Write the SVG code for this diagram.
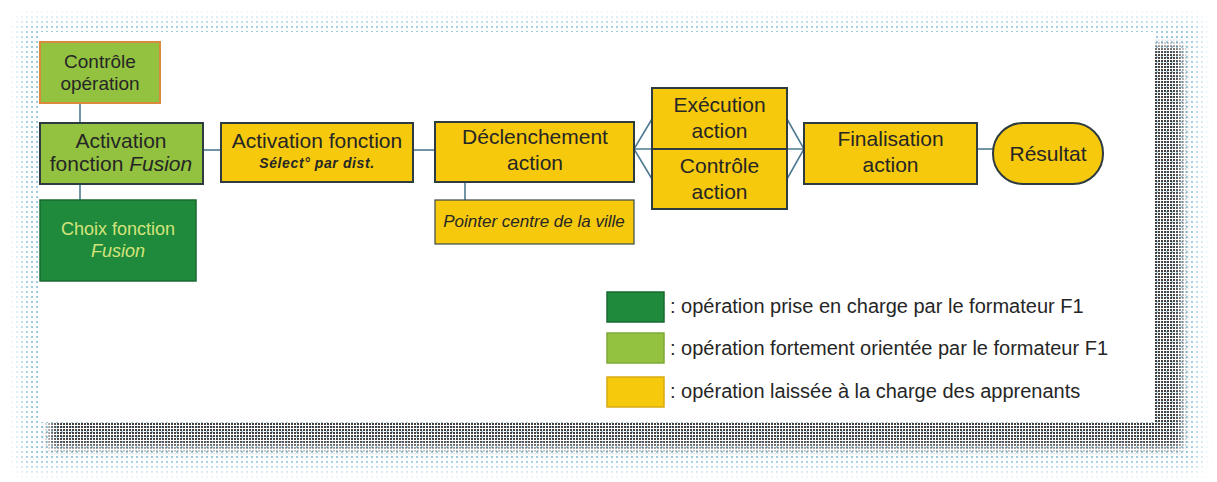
<svg xmlns="http://www.w3.org/2000/svg" width="1217" height="482" viewBox="0 0 1217 482">
<style>
text{font-family:"Liberation Sans",Arial,sans-serif;fill:#262626;text-anchor:middle}
.t{font-size:21px}
.box{stroke:#2e3c42;stroke-width:2}
.yel{fill:#f6c90c}
.lg{fill:#92c23f}
.dg{fill:#1f8a3b}
.conn{stroke:#4f7a92;stroke-width:1.6;fill:none}
.leg{font-size:20px;text-anchor:start}
</style>
<defs>
<pattern id="dotsD" width="3" height="3" patternUnits="userSpaceOnUse">
<rect width="3" height="3" fill="#000"/>
<rect width="2" height="2" fill="#fff"/>
</pattern>
<pattern id="dotsL" width="5" height="5" patternUnits="userSpaceOnUse">
<rect width="5" height="5" fill="#000"/>
<rect x="1" y="1" width="2" height="2" fill="#fff"/>
</pattern>
<mask id="mD" maskUnits="userSpaceOnUse" x="0" y="0" width="1217" height="482"><rect width="1217" height="482" fill="url(#dotsD)"/></mask>
<mask id="mL" maskUnits="userSpaceOnUse" x="0" y="0" width="1217" height="482"><rect width="1217" height="482" fill="url(#dotsL)"/></mask>
<filter id="b1" x="-10%" y="-10%" width="120%" height="120%"><feGaussianBlur stdDeviation="7"/></filter>
<filter id="b2" x="-10%" y="-10%" width="120%" height="120%"><feGaussianBlur stdDeviation="5"/></filter>
</defs>
<rect width="1217" height="482" fill="#fff"/>
<g id="frame">
<g mask="url(#mL)"><rect x="20" y="20" width="1180" height="450" fill="#5aa8cc" filter="url(#b1)" opacity="0.6"/></g>
<g mask="url(#mD)"><rect x="50" y="46" width="1132" height="402" fill="#3a3434" filter="url(#b2)" opacity="0.95"/></g>
<rect x="38" y="32" width="1117" height="390" fill="#fff"/>
</g>
<g id="connectors">
<line class="conn" x1="80" y1="103" x2="80" y2="123"/>
<line class="conn" x1="80" y1="185" x2="80" y2="200"/>
<line class="conn" x1="203" y1="150" x2="221" y2="150"/>
<line class="conn" x1="413" y1="150" x2="435" y2="150"/>
<line class="conn" x1="465" y1="182" x2="465" y2="200"/>
<line class="conn" x1="634" y1="149" x2="804" y2="149"/>
<polyline class="conn" points="652,119 634,149 652,179"/>
<polyline class="conn" points="787,119 804,149 787,179"/>
<line class="conn" x1="977" y1="149" x2="993" y2="149"/>
</g>
<g id="controle-operation">
<rect x="40" y="42" width="120" height="61" class="lg" stroke="#d98a3c" stroke-width="2"/>
<text x="100" y="68" style="font-size:19px">Contrôle</text>
<text x="100" y="90" style="font-size:19px">opération</text>
</g>
<g id="activation-fusion">
<rect x="40" y="123" width="163" height="61" class="lg box"/>
<text x="121" y="148" class="t">Activation</text>
<text x="121" y="171" class="t">fonction <tspan font-style="italic">Fusion</tspan></text>
</g>
<g id="choix-fonction">
<rect x="40" y="200" width="156" height="81" class="dg" stroke="#1a6a30" stroke-width="1.5"/>
<text x="118" y="235" style="font-size:18px;fill:#d3e47c">Choix fonction</text>
<text x="118" y="257" style="font-size:18px;fill:#d3e47c;font-style:italic">Fusion</text>
</g>
<g id="activation-select">
<rect x="221" y="123" width="192" height="59" class="yel box"/>
<text x="317" y="148" class="t">Activation fonction</text>
<text x="317" y="168" style="font-size:14px;font-style:italic;font-weight:bold;letter-spacing:0.6px">Sélect° par dist.</text>
</g>
<g id="declenchement">
<rect x="435" y="122" width="199" height="60" class="yel box"/>
<text x="535" y="144" class="t">Déclenchement</text>
<text x="535" y="170" class="t">action</text>
</g>
<g id="pointer">
<rect x="435" y="200" width="199" height="44" class="yel" stroke="#3a4a48" stroke-width="1.2"/>
<text x="534" y="227" style="font-size:17px;font-style:italic">Pointer centre de la ville</text>
</g>
<g id="execution">
<rect x="652" y="88" width="135" height="61" class="yel box"/>
<text x="719.5" y="112" class="t">Exécution</text>
<text x="719.5" y="138" class="t">action</text>
</g>
<g id="controle-action">
<rect x="652" y="149" width="135" height="60" class="yel box"/>
<text x="719.5" y="173" class="t">Contrôle</text>
<text x="719.5" y="199" class="t">action</text>
</g>
<g id="finalisation">
<rect x="804" y="123" width="173" height="61" class="yel box"/>
<text x="890.5" y="146" class="t">Finalisation</text>
<text x="890.5" y="172" class="t">action</text>
</g>
<g id="resultat">
<rect x="993" y="123" width="110" height="61" rx="30" ry="30" class="yel box"/>
<text x="1048" y="161" class="t">Résultat</text>
</g>
<g id="legend">
<rect x="607" y="292" width="57" height="30" class="dg" stroke="#1a6a30" stroke-width="1.5"/>
<rect x="607" y="333" width="57" height="30" class="lg" stroke="#7ea838" stroke-width="1.5"/>
<rect x="607" y="377" width="57" height="30" class="yel" stroke="#d9aa10" stroke-width="1.5"/>
<text x="670" y="313" class="leg">: opération prise en charge par le formateur F1</text>
<text x="670" y="355" class="leg">: opération fortement orientée par le formateur F1</text>
<text x="670" y="398" class="leg">: opération laissée à la charge des apprenants</text>
</g>
</svg>
